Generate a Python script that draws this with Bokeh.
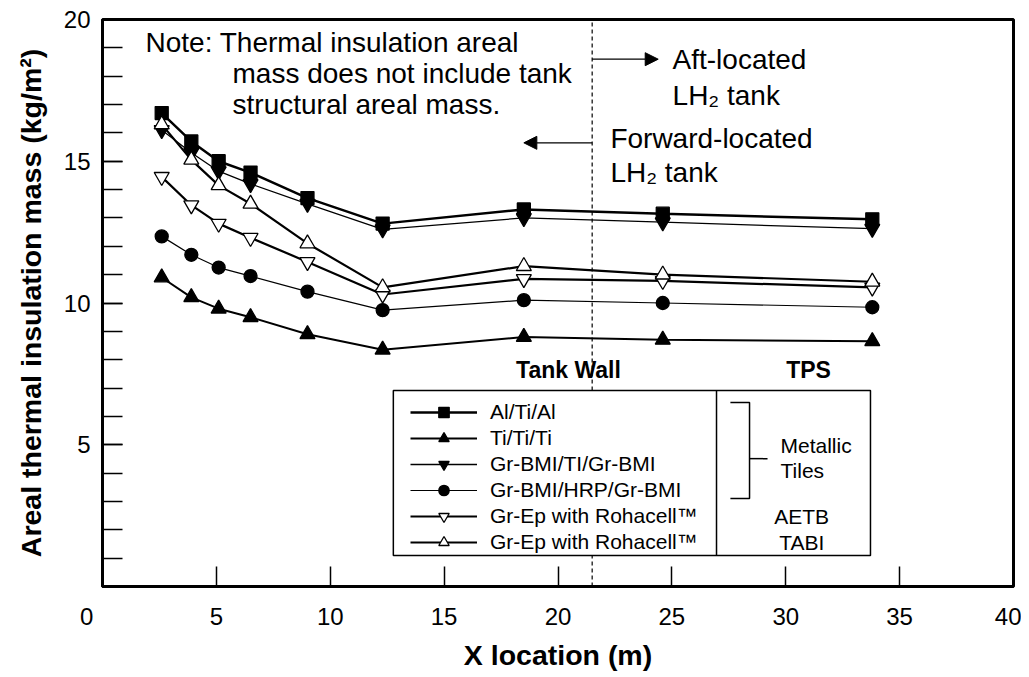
from bokeh.plotting import figure
from bokeh.models import FixedTicker, Legend, LegendItem, Label, Arrow, NormalHead
from bokeh.embed import file_html
from bokeh.resources import INLINE

# ---------------- data ----------------
x_location = [2.6, 3.9, 5.1, 6.5, 9.0, 12.3, 18.5, 24.6, 33.8]
al_ti_al = [16.7, 15.7, 15.0, 14.6, 13.7, 12.8, 13.3, 13.15, 12.95]
ti_ti_ti = [10.9, 10.2, 9.8, 9.5, 8.9, 8.35, 8.8, 8.7, 8.65]
grbmi_ti_grbmi = [16.1, 15.3, 14.65, 14.2, 13.5, 12.6, 13.0, 12.85, 12.62]
grbmi_hrp_grbmi = [12.35, 11.7, 11.25, 10.95, 10.4, 9.75, 10.1, 10.0, 9.85]
grep_aetb = [14.45, 13.45, 12.8, 12.3, 11.45, 10.3, 10.85, 10.78, 10.55]
grep_tabi = [16.3, 15.05, 14.15, 13.5, 12.1, 10.55, 11.3, 11.0, 10.75]

series_labels = ["Al/Ti/Al", "Ti/Ti/Ti", "Gr-BMI/TI/Gr-BMI", "Gr-BMI/HRP/Gr-BMI",
                 "Gr-Ep with Rohacell\u2122", "Gr-Ep with Rohacell\u2122"]
x_ticks = [0, 5, 10, 15, 20, 25, 30, 35, 40]
y_ticks = [0, 5, 10, 15, 20]
y_minor_ticks = list(range(0, 21))

FONT = "Liberation Sans"

p = figure(frame_width=911, frame_height=567, x_range=(0, 40), y_range=(0, 20),
           output_backend="svg", toolbar_location=None,
           min_border_left=102, min_border_right=8, min_border_top=19, min_border_bottom=85)
p.grid.visible = False
p.outline_line_color = "black"
p.outline_line_width = 3
p.background_fill_color = "white"
p.border_fill_color = "white"

for ax in (p.xaxis[0], p.yaxis[0]):
    ax.axis_line_width = 3
    ax.axis_line_color = "black"
    ax.major_tick_in = 20
    ax.major_tick_out = 0
    ax.major_tick_line_width = 1.5
    ax.major_tick_line_color = "black"
    ax.minor_tick_in = 20
    ax.minor_tick_out = 0
    ax.minor_tick_line_width = 1.5
    ax.minor_tick_line_color = "black"
    ax.major_label_text_font = FONT
    ax.major_label_text_font_size = "24px"
    ax.major_label_text_color = "black"
    ax.axis_label_text_font = FONT
    ax.axis_label_text_font_style = "bold"
    ax.axis_label_text_font_size = "28.5px"
    ax.axis_label_text_color = "black"

p.xaxis[0].ticker = FixedTicker(ticks=x_ticks)
p.xaxis[0].minor_tick_line_color = None
p.yaxis[0].ticker = FixedTicker(ticks=y_ticks, minor_ticks=y_minor_ticks)
# the origin "0" is shared by both axes and sits left of the corner
p.xaxis[0].major_label_overrides = {0: "0\u2007\u2007\u2009"}
p.yaxis[0].major_label_overrides = {0: ""}
p.xaxis[0].axis_label = "X location (m)"
p.yaxis[0].axis_label = "Areal thermal insulation mass (kg/m\u00b2)"
p.xaxis[0].major_label_standoff = 16
p.yaxis[0].major_label_standoff = 12
p.xaxis[0].axis_label_standoff = 6
p.yaxis[0].axis_label_standoff = 14

# dashed divider between forward / aft tank
p.segment(x0=[21.5], y0=[0], x1=[21.5], y1=[20], line_color="black",
          line_width=1.2, line_dash="4 3")

# series
specs = [
    (al_ti_al, "square", "black", 13, 2.5),
    (ti_ti_ti, "triangle", "black", 15, 2.0),
    (grbmi_ti_grbmi, "inverted_triangle", "black", 15, 1.3),
    (grbmi_hrp_grbmi, "circle", "black", 13, 1.2),
    (grep_aetb, "inverted_triangle", "white", 15, 2.2),
    (grep_tabi, "triangle", "white", 15, 2.2),
]
items = []
for (vals, marker, fill, size, lw), lab in zip(specs, series_labels):
    lr = p.line(x_location, vals, line_color="black", line_width=lw)
    sr = p.scatter(x_location, vals, marker=marker, size=size, fill_color=fill,
                   line_color="black", line_width=1.3)
    items.append(LegendItem(label=lab, renderers=[lr, sr]))

# legend frame with right-hand column
p.quad(left=[12.77], right=[33.72], bottom=[1.09], top=[6.91],
       fill_color="white", line_color="black", line_width=1.5)
p.segment(x0=[26.96], y0=[1.09], x1=[26.96], y1=[6.91], line_color="black", line_width=1.5)
p.line(x=[27.57, 28.41, 28.41, 27.57], y=[6.49, 6.49, 3.10, 3.10],
       line_color="black", line_width=1.5)
p.segment(x0=[28.41], y0=[4.51], x1=[29.2], y1=[4.51], line_color="black", line_width=1.5)

legend = Legend(items=items, location=(308, 31), padding=0, margin=0, spacing=0,
                glyph_width=67, glyph_height=26, label_height=26, label_standoff=13,
                label_text_font=FONT, label_text_font_size="21px",
                label_text_color="black",
                border_line_color=None, background_fill_alpha=0)
p.add_layout(legend)

def lab(x, y, text, size, align="left", bold=False):
    p.add_layout(Label(x=x, y=y, text=text, text_font=FONT, text_font_size=size,
                       text_align=align, text_baseline="middle", text_color="black",
                       text_font_style="bold" if bold else "normal"))

lab(29.77, 4.97, "Metallic", "21px")
lab(29.77, 4.09, "Tiles", "21px")
lab(30.7, 2.47, "AETB", "21px", align="center")
lab(30.7, 1.55, "TABI", "21px", align="center")

lab(20.46, 7.62, "Tank Wall", "23px", align="center", bold=True)
lab(31.0, 7.62, "TPS", "23px", align="center", bold=True)

lab(1.89, 19.19, "Note: Thermal insulation areal", "28px")
lab(5.71, 18.1, "mass does not include tank", "28px")
lab(5.71, 17.0, "structural areal mass.", "28px")

lab(25.03, 18.59, "Aft-located", "28px")
lab(25.03, 17.32, "LH\u2082 tank", "28px")
lab(22.3, 15.8, "Forward-located", "28px")
lab(22.3, 14.6, "LH\u2082 tank", "28px")

p.add_layout(Arrow(end=NormalHead(size=13, fill_color="black", line_color="black"),
                   x_start=21.5, y_start=18.6, x_end=24.4, y_end=18.6,
                   line_color="black", line_width=1.2))
p.add_layout(Arrow(end=NormalHead(size=13, fill_color="black", line_color="black"),
                   x_start=21.5, y_start=15.65, x_end=18.5, y_end=15.65,
                   line_color="black", line_width=1.2))

open("out.html", "w").write(file_html(p, INLINE))
